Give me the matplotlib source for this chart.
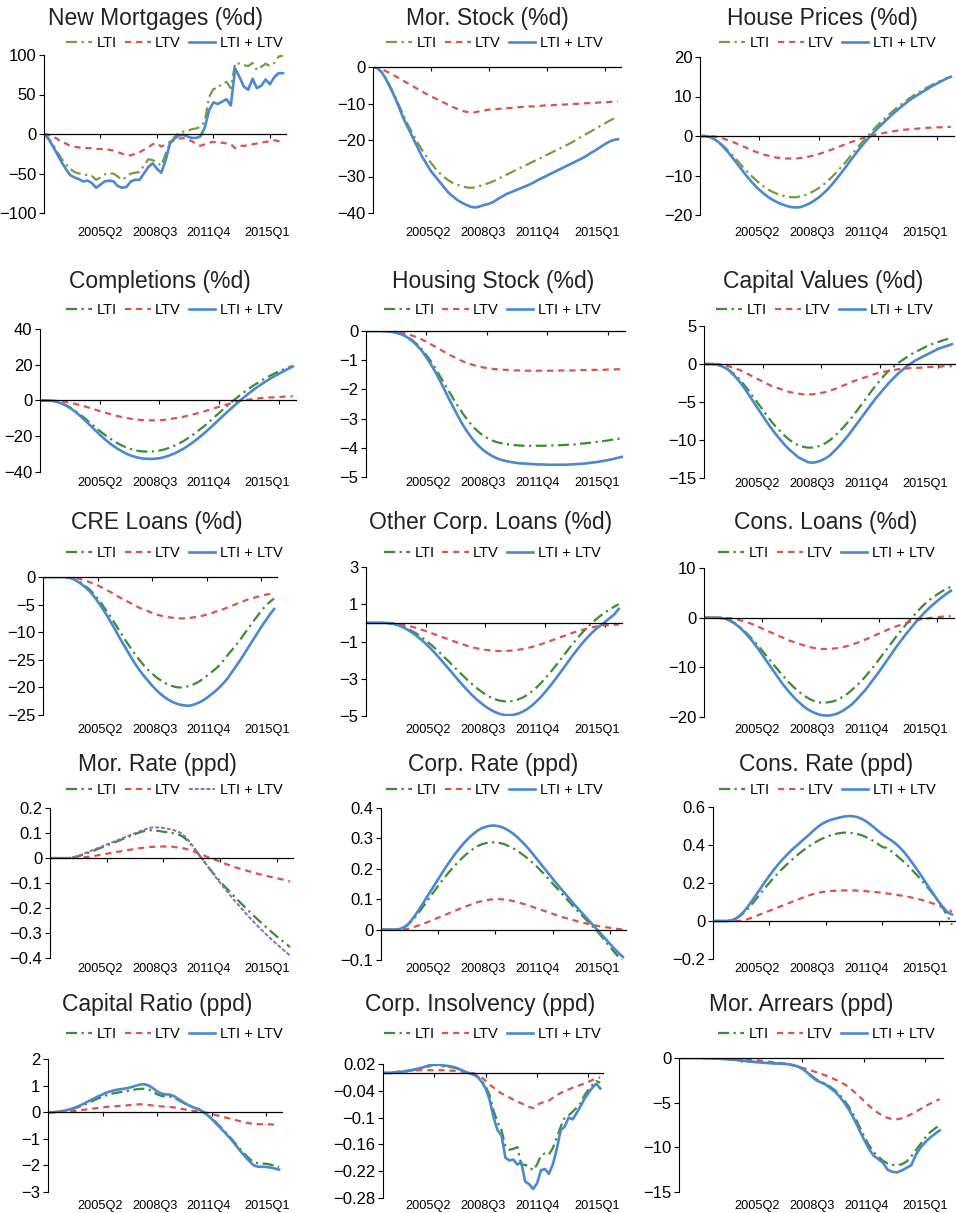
import matplotlib
matplotlib.use('Agg')
import matplotlib.pyplot as plt

plt.rcParams['font.family'] = ['Liberation Sans', 'DejaVu Sans']

W, H = 956, 1213

# quarters 2002Q1 .. 2015Q4
quarters = list(range(56))
tick_pos = [13, 26, 39, 52]
tick_lbl = ['2005Q2', '2008Q3', '2011Q4', '2015Q1']

# ---- New Mortgages (%d)
nm_lti = [0, -5, -13, -22, -31, -38, -44, -48, -50, -51,
          -52, -53, -58, -55, -51, -50, -50, -54, -58, -54,
          -50, -49, -48, -40, -32, -33, -36, -40, -25, -12,
          -4, 1, 3, 4, 6, 7, 9, 16, 47, 57,
          58, 64, 66, 58, 90, 89, 87, 86, 90, 81,
          85, 89, 86, 90, 98, 99]
nm_ltv = [0, -1, -3, -6, -10, -12, -15, -16, -17, -17,
          -18, -18, -19, -19, -19, -20, -21, -23, -25, -27,
          -27, -25, -23, -20, -17, -13, -12, -16, -13, -10,
          -8, -6, -5, -7, -9, -12, -15, -13, -11, -10,
          -11, -11, -12, -13, -18, -15, -15, -14, -13, -12,
          -11, -10, -9, -8, -9, -12]
nm_both = [0, -6, -15, -25, -35, -44, -52, -55, -57, -60,
           -59, -62, -68, -64, -60, -59, -60, -66, -68, -67,
           -60, -58, -58, -50, -42, -37, -44, -49, -33, -12,
           -6, -2, -1, -3, -5, -5, -3, 8, 30, 40,
           38, 41, 44, 36, 83, 72, 60, 56, 70, 58,
           61, 69, 63, 72, 77, 77]

# ---- Mor. Stock (%d)
ms_lti = [0, -0.3, -1.5, -3.3, -5.7, -8.2, -11, -13.7, -16.2, -18.5,
          -20.7, -22.7, -24.5, -26.2, -27.8, -29.1, -30.2, -31.1, -31.8, -32.3,
          -32.7, -33, -33.1, -33, -32.6, -32.2, -31.8, -31.3, -30.7, -30.1,
          -29.5, -28.9, -28.3, -27.7, -27.1, -26.5, -25.9, -25.3, -24.7, -24.1,
          -23.5, -22.9, -22.3, -21.7, -21.1, -20.4, -19.7, -19, -18.3, -17.6,
          -16.9, -16.2, -15.5, -14.8, -14.2, -13.7]
ms_ltv = [0, -0.2, -0.6, -1.2, -1.8, -2.5, -3.2, -3.9, -4.6, -5.3,
          -6, -6.7, -7.4, -8, -8.6, -9.2, -9.8, -10.4, -11, -11.5,
          -12, -12.3, -12.5, -12.4, -12.1, -11.9, -11.7, -11.6, -11.5, -11.4,
          -11.3, -11.2, -11.1, -11, -10.9, -10.8, -10.8, -10.7, -10.6, -10.5,
          -10.5, -10.4, -10.3, -10.3, -10.2, -10.1, -10.1, -10, -9.9, -9.9,
          -9.8, -9.7, -9.7, -9.6, -9.5, -9.4]
ms_both = [0, -0.3, -1.5, -3.5, -6, -8.5, -11.5, -14.5, -17, -19.5,
           -22, -24.5, -26.5, -28.5, -30, -31.5, -33, -34.5, -35.5, -36.5,
           -37.2, -37.8, -38.3, -38.5, -38.2, -37.8, -37.5, -37, -36.2, -35.5,
           -34.8, -34.3, -33.8, -33.3, -32.8, -32.3, -31.7, -31, -30.4, -29.8,
           -29.2, -28.6, -28, -27.4, -26.8, -26.2, -25.6, -25, -24.3, -23.5,
           -22.8, -22, -21.2, -20.5, -20, -19.8]

# ---- House Prices (%d)
hp_lti = [0, 0, -0.2, -0.7, -1.4, -2.4, -3.5, -4.7, -6, -7.3,
          -8.6, -9.8, -10.9, -11.9, -12.8, -13.6, -14.2, -14.7, -15.1, -15.3,
          -15.5, -15.5, -15.3, -15, -14.5, -13.9, -13.2, -12.4, -11.4, -10.3,
          -9.1, -7.8, -6.5, -5.1, -3.7, -2.3, -1, 0.3, 1.6, 2.8,
          3.9, 5, 6, 7, 7.9, 8.8, 9.6, 10.4, 11.1, 11.8,
          12.4, 13, 13.6, 14.1, 14.6, 15]
hp_ltv = [0, 0, 0, -0.1, -0.3, -0.6, -1, -1.4, -1.9, -2.4,
          -2.9, -3.4, -3.9, -4.3, -4.7, -5, -5.3, -5.5, -5.6, -5.7,
          -5.7, -5.7, -5.6, -5.4, -5.2, -4.9, -4.6, -4.2, -3.8, -3.4,
          -2.9, -2.5, -2, -1.6, -1.2, -0.8, -0.4, -0.1, 0.2, 0.5,
          0.7, 0.9, 1.1, 1.3, 1.5, 1.6, 1.7, 1.8, 1.9, 2,
          2.1, 2.1, 2.2, 2.2, 2.3, 2.3]
hp_both = [0, 0, -0.2, -0.7, -1.5, -2.6, -3.9, -5.3, -6.8, -8.3,
           -9.8, -11.2, -12.5, -13.6, -14.6, -15.5, -16.2, -16.8, -17.3, -17.7,
           -18, -18.1, -18, -17.6, -17.1, -16.4, -15.6, -14.6, -13.5, -12.2,
           -10.8, -9.3, -7.8, -6.2, -4.7, -3.2, -1.8, -0.5, 0.8, 2,
           3.1, 4.2, 5.3, 6.3, 7.3, 8.2, 9.1, 9.9, 10.6, 11.3,
           12, 12.7, 13.3, 13.9, 14.5, 15]

# ---- Completions (%d)
cm_lti = [0, 0, -0.1, -0.4, -1, -1.9, -3.1, -4.6, -6.4, -8.4,
          -10.5, -12.7, -14.9, -17, -19, -20.9, -22.6, -24.1, -25.4, -26.5,
          -27.4, -28, -28.4, -28.6, -28.6, -28.4, -28, -27.4, -26.6, -25.6,
          -24.4, -23, -21.4, -19.7, -17.8, -15.8, -13.7, -11.5, -9.2, -6.9,
          -4.6, -2.4, -0.2, 1.9, 3.9, 5.8, 7.6, 9.3, 10.9, 12.4,
          13.8, 15.1, 16.3, 17.4, 18.4, 19.3]
cm_ltv = [0, 0, 0, -0.1, -0.3, -0.6, -1, -1.5, -2.1, -2.8,
          -3.5, -4.3, -5.1, -5.9, -6.7, -7.4, -8.1, -8.8, -9.4, -9.9,
          -10.3, -10.6, -10.9, -11, -11.1, -11.1, -11, -10.8, -10.5, -10.1,
          -9.7, -9.2, -8.6, -8, -7.3, -6.6, -5.9, -5.1, -4.3, -3.5,
          -2.7, -2, -1.3, -0.6, 0, 0.4, 0.7, 1, 1.3, 1.5,
          1.7, 1.8, 2, 2.1, 2.2, 2.3]
cm_both = [0, 0, -0.1, -0.4, -1, -2, -3.3, -5, -7, -9.2,
           -11.6, -14.1, -16.6, -19.1, -21.4, -23.6, -25.5, -27.2, -28.7, -30,
           -31, -31.8, -32.3, -32.6, -32.7, -32.6, -32.3, -31.7, -30.9, -29.9,
           -28.7, -27.3, -25.7, -23.9, -22, -19.9, -17.7, -15.4, -13, -10.6,
           -8.2, -5.8, -3.5, -1.2, 1, 3.1, 5.1, 7, 8.8, 10.5,
           12.1, 13.6, 15, 16.4, 17.7, 19]

# ---- Housing Stock (%d)
hs_lti = [0, 0, 0, 0, -0.01, -0.02, -0.04, -0.08, -0.13, -0.21,
          -0.32, -0.46, -0.63, -0.83, -1.05, -1.3, -1.57, -1.84, -2.11, -2.38,
          -2.63, -2.87, -3.08, -3.27, -3.43, -3.56, -3.66, -3.74, -3.8, -3.84,
          -3.87, -3.89, -3.91, -3.92, -3.93, -3.93, -3.93, -3.93, -3.93, -3.93,
          -3.92, -3.92, -3.91, -3.9, -3.89, -3.88, -3.86, -3.85, -3.83, -3.81,
          -3.79, -3.77, -3.75, -3.72, -3.7, -3.67]
hs_ltv = [0, 0, 0, 0, 0, -0.01, -0.02, -0.04, -0.07, -0.11,
          -0.16, -0.22, -0.29, -0.37, -0.46, -0.55, -0.64, -0.73, -0.82, -0.9,
          -0.98, -1.05, -1.11, -1.16, -1.2, -1.24, -1.27, -1.29, -1.31, -1.32,
          -1.33, -1.34, -1.35, -1.35, -1.36, -1.36, -1.36, -1.36, -1.36, -1.36,
          -1.36, -1.36, -1.35, -1.35, -1.35, -1.35, -1.34, -1.34, -1.34, -1.33,
          -1.33, -1.33, -1.32, -1.32, -1.31, -1.31]
hs_both = [0, 0, 0, 0, -0.01, -0.02, -0.04, -0.08, -0.14, -0.23,
           -0.35, -0.5, -0.68, -0.9, -1.15, -1.43, -1.73, -2.05, -2.37, -2.68,
           -2.98, -3.26, -3.5, -3.72, -3.9, -4.05, -4.17, -4.27, -4.35, -4.41,
           -4.45, -4.48, -4.51, -4.53, -4.54, -4.55, -4.56, -4.57, -4.57, -4.58,
           -4.58, -4.58, -4.58, -4.58, -4.57, -4.56, -4.55, -4.54, -4.52, -4.5,
           -4.48, -4.45, -4.42, -4.39, -4.35, -4.31]

# ---- Capital Values (%d)
cv_lti = [0, 0, 0, -0.1, -0.3, -0.6, -1, -1.5, -2.1, -2.8,
          -3.6, -4.4, -5.2, -6, -6.8, -7.6, -8.3, -8.9, -9.5, -10,
          -10.4, -10.7, -10.9, -11, -11, -10.9, -10.7, -10.4, -10, -9.5,
          -8.9, -8.3, -7.6, -6.9, -6.1, -5.3, -4.5, -3.7, -2.9, -2.2,
          -1.5, -0.9, -0.4, 0.1, 0.5, 0.9, 1.3, 1.6, 1.9, 2.2,
          2.5, 2.7, 2.9, 3.1, 3.3, 3.5]
cv_ltv = [0, 0, 0, 0, -0.1, -0.2, -0.4, -0.6, -0.8, -1.1,
          -1.4, -1.7, -2, -2.3, -2.6, -2.9, -3.1, -3.3, -3.5, -3.7,
          -3.8, -3.9, -4, -4, -4, -3.9, -3.8, -3.7, -3.5, -3.3,
          -3.1, -2.8, -2.6, -2.3, -2.1, -1.9, -1.7, -1.5, -1.3, -1.1,
          -1, -0.9, -0.8, -0.7, -0.6, -0.6, -0.5, -0.5, -0.5, -0.4,
          -0.4, -0.4, -0.4, -0.3, -0.3, -0.3]
cv_both = [0, 0, 0, -0.1, -0.3, -0.6, -1.1, -1.7, -2.4, -3.2,
           -4.1, -5, -5.9, -6.8, -7.7, -8.5, -9.3, -10, -10.7, -11.3,
           -11.8, -12.3, -12.6, -12.9, -13, -12.9, -12.7, -12.4, -12, -11.4,
           -10.8, -10.1, -9.4, -8.6, -7.8, -7, -6.2, -5.4, -4.6, -3.9,
           -3.2, -2.5, -1.9, -1.3, -0.8, -0.3, 0.1, 0.5, 0.8, 1.1,
           1.4, 1.7, 2, 2.2, 2.4, 2.6]

# ---- CRE Loans (%d)
cre_lti = [0, 0, 0, 0, 0, 0, -0.1, -0.3, -0.6, -1,
           -1.6, -2.2, -3, -3.9, -4.9, -6, -7.1, -8.3, -9.5, -10.7,
           -11.9, -13, -14.1, -15.1, -16, -16.8, -17.5, -18.2, -18.7, -19.2,
           -19.6, -19.8, -20, -20, -19.9, -19.7, -19.4, -19, -18.5, -17.9,
           -17.3, -16.7, -16, -15.1, -14.1, -13.2, -12.3, -11.3, -10.2, -9.2,
           -8.1, -7.1, -6.1, -5.2, -4.5, -3.9]
cre_ltv = [0, 0, 0, 0, 0, 0, 0, -0.1, -0.2, -0.4,
           -0.6, -0.9, -1.2, -1.5, -1.9, -2.3, -2.7, -3.1, -3.6, -4,
           -4.4, -4.8, -5.2, -5.6, -5.9, -6.2, -6.5, -6.8, -7, -7.2,
           -7.3, -7.4, -7.5, -7.5, -7.5, -7.4, -7.3, -7.2, -7, -6.8,
           -6.6, -6.3, -6.1, -5.8, -5.5, -5.2, -4.9, -4.6, -4.3, -4,
           -3.8, -3.6, -3.4, -3.2, -3.1, -2.9]
cre_both = [0, 0, 0, 0, 0, 0, -0.1, -0.3, -0.7, -1.2,
            -1.8, -2.5, -3.4, -4.4, -5.5, -6.7, -8, -9.3, -10.7, -12,
            -13.3, -14.6, -15.8, -16.9, -17.9, -18.8, -19.7, -20.5, -21.2, -21.8,
            -22.3, -22.7, -23, -23.2, -23.3, -23.3, -23.1, -22.8, -22.4, -21.9,
            -21.3, -20.7, -20, -19.2, -18.3, -17.2, -16.1, -15, -13.8, -12.6,
            -11.4, -10.2, -9, -7.9, -6.8, -5.8]

# ---- Other Corp. Loans (%d)
ocl_lti = [0, 0, 0, 0, 0, -0.02, -0.05, -0.11, -0.19, -0.3,
           -0.43, -0.58, -0.75, -0.94, -1.14, -1.36, -1.59, -1.83, -2.07, -2.32,
           -2.57, -2.81, -3.05, -3.27, -3.48, -3.67, -3.84, -3.98, -4.09, -4.17,
           -4.21, -4.22, -4.19, -4.12, -4.02, -3.88, -3.7, -3.49, -3.25, -2.98,
           -2.69, -2.39, -2.07, -1.75, -1.43, -1.12, -0.82, -0.54, -0.28, -0.04,
           0.18, 0.38, 0.56, 0.72, 0.87, 1.0]
ocl_ltv = [0, 0, 0, 0, 0, -0.01, -0.03, -0.06, -0.1, -0.15,
           -0.21, -0.28, -0.36, -0.44, -0.53, -0.62, -0.71, -0.8, -0.89, -0.98,
           -1.07, -1.15, -1.23, -1.3, -1.36, -1.41, -1.45, -1.48, -1.5, -1.51,
           -1.51, -1.5, -1.48, -1.45, -1.41, -1.36, -1.3, -1.23, -1.15, -1.07,
           -0.98, -0.89, -0.8, -0.71, -0.62, -0.53, -0.45, -0.38, -0.31, -0.25,
           -0.2, -0.16, -0.13, -0.11, -0.1, -0.09]
ocl_both = [0, 0, 0, 0, 0, -0.02, -0.06, -0.13, -0.23, -0.36,
            -0.52, -0.7, -0.9, -1.12, -1.36, -1.62, -1.9, -2.18, -2.47, -2.76,
            -3.05, -3.33, -3.6, -3.86, -4.09, -4.3, -4.49, -4.65, -4.78, -4.88,
            -4.94, -4.96, -4.94, -4.88, -4.78, -4.64, -4.46, -4.24, -3.99, -3.71,
            -3.41, -3.09, -2.76, -2.42, -2.08, -1.74, -1.42, -1.11, -0.83, -0.57,
            -0.34, -0.14, 0.05, 0.25, 0.45, 0.75]

# ---- Cons. Loans (%d)
cl_lti = [0, 0, 0, 0, -0.1, -0.3, -0.7, -1.2, -1.9, -2.7,
          -3.6, -4.6, -5.6, -6.7, -7.8, -8.9, -10, -11.1, -12.1, -13.1,
          -14, -14.8, -15.5, -16.1, -16.6, -16.9, -17.1, -17.1, -17, -16.8,
          -16.4, -15.9, -15.3, -14.5, -13.7, -12.8, -11.8, -10.7, -9.6, -8.4,
          -7.2, -6, -4.8, -3.6, -2.5, -1.4, -0.3, 0.7, 1.7, 2.6,
          3.4, 4.1, 4.7, 5.3, 5.8, 6.2]
cl_ltv = [0, 0, 0, 0, 0, -0.05, -0.15, -0.3, -0.5, -0.75,
          -1.05, -1.4, -1.8, -2.2, -2.6, -3, -3.4, -3.8, -4.2, -4.6,
          -4.9, -5.2, -5.5, -5.8, -6, -6.2, -6.3, -6.3, -6.3, -6.2,
          -6.1, -5.9, -5.7, -5.4, -5.1, -4.8, -4.4, -4, -3.6, -3.2,
          -2.8, -2.4, -2, -1.7, -1.4, -1.1, -0.8, -0.6, -0.4, -0.2,
          -0.1, 0, 0.1, 0.2, 0.25, 0.3]
cl_both = [0, 0, 0, 0, -0.1, -0.3, -0.7, -1.3, -2, -2.9,
           -3.9, -5, -6.2, -7.5, -8.8, -10.1, -11.4, -12.7, -13.9, -15,
           -16, -16.9, -17.7, -18.4, -18.9, -19.3, -19.6, -19.7, -19.7, -19.5,
           -19.2, -18.7, -18.1, -17.4, -16.5, -15.5, -14.5, -13.3, -12.1, -10.9,
           -9.6, -8.3, -7, -5.7, -4.5, -3.3, -2.2, -1.1, -0.1, 0.9,
           1.8, 2.6, 3.4, 4.1, 4.8, 5.4]

# ---- Mor. Rate (ppd)
mr_lti = [0, 0, 0, 0, 0, 0.002, 0.005, 0.01, 0.016, 0.022,
          0.029, 0.036, 0.043, 0.05, 0.057, 0.064, 0.071, 0.078, 0.085, 0.092,
          0.099, 0.105, 0.109, 0.111, 0.11, 0.108, 0.105, 0.103, 0.1, 0.096,
          0.09, 0.078, 0.06, 0.039, 0.016, -0.007, -0.03, -0.052, -0.073, -0.093,
          -0.113, -0.131, -0.149, -0.167, -0.185, -0.202, -0.219, -0.236, -0.252, -0.268,
          -0.284, -0.299, -0.314, -0.328, -0.342, -0.356]
mr_ltv = [0, 0, 0, 0, 0, 0, 0, 0.001, 0.003, 0.005,
          0.008, 0.011, 0.014, 0.017, 0.02, 0.023, 0.026, 0.029, 0.032, 0.035,
          0.038, 0.04, 0.042, 0.044, 0.045, 0.046, 0.046, 0.046, 0.045, 0.043,
          0.041, 0.037, 0.032, 0.026, 0.019, 0.012, 0.005, -0.001, -0.008, -0.015,
          -0.022, -0.028, -0.034, -0.04, -0.045, -0.05, -0.055, -0.06, -0.065, -0.069,
          -0.073, -0.077, -0.081, -0.085, -0.089, -0.094]
mr_both = [0, 0, 0, 0, 0, 0.002, 0.006, 0.012, 0.019, 0.026,
           0.033, 0.04, 0.047, 0.054, 0.061, 0.068, 0.075, 0.082, 0.089, 0.096,
           0.103, 0.11, 0.116, 0.121, 0.123, 0.122, 0.12, 0.117, 0.113, 0.108,
           0.1, 0.085, 0.065, 0.042, 0.018, -0.006, -0.03, -0.054, -0.077, -0.099,
           -0.121, -0.143, -0.164, -0.184, -0.204, -0.224, -0.243, -0.261, -0.279, -0.296,
           -0.313, -0.329, -0.345, -0.36, -0.375, -0.39]

# ---- Corp. Rate (ppd)
cr_lti = [0, 0, 0, 0, 0.001, 0.005, 0.014, 0.028, 0.045, 0.064,
          0.084, 0.104, 0.124, 0.144, 0.163, 0.181, 0.198, 0.214, 0.229, 0.243,
          0.255, 0.266, 0.275, 0.281, 0.285, 0.287, 0.287, 0.285, 0.281, 0.275,
          0.268, 0.259, 0.249, 0.238, 0.226, 0.213, 0.199, 0.184, 0.168, 0.152,
          0.136, 0.12, 0.104, 0.088, 0.072, 0.057, 0.042, 0.027, 0.012, -0.003,
          -0.02, -0.038, -0.056, -0.073, -0.09, -0.107]
cr_ltv = [0, 0, 0, 0, 0, 0, 0.002, 0.006, 0.011, 0.016,
          0.021, 0.027, 0.033, 0.039, 0.045, 0.051, 0.057, 0.063, 0.069, 0.075,
          0.08, 0.085, 0.09, 0.094, 0.097, 0.099, 0.1, 0.1, 0.099, 0.097,
          0.094, 0.09, 0.086, 0.082, 0.077, 0.072, 0.067, 0.062, 0.057, 0.052,
          0.047, 0.042, 0.038, 0.034, 0.03, 0.026, 0.022, 0.019, 0.016, 0.013,
          0.01, 0.008, 0.006, 0.004, 0.002, 0.0]
cr_both = [0, 0, 0, 0, 0.001, 0.006, 0.016, 0.032, 0.052, 0.074,
           0.097, 0.12, 0.143, 0.166, 0.189, 0.211, 0.232, 0.252, 0.27, 0.287,
           0.302, 0.315, 0.326, 0.334, 0.339, 0.342, 0.342, 0.339, 0.334, 0.326,
           0.316, 0.304, 0.29, 0.275, 0.258, 0.24, 0.222, 0.204, 0.186, 0.168,
           0.15, 0.133, 0.116, 0.099, 0.082, 0.066, 0.05, 0.034, 0.018, 0.002,
           -0.014, -0.03, -0.046, -0.062, -0.077, -0.09]

# ---- Cons. Rate (ppd)
csr_lti = [0, 0, 0, 0, 0.002, 0.009, 0.022, 0.041, 0.064, 0.09,
           0.118, 0.147, 0.175, 0.202, 0.228, 0.253, 0.276, 0.298, 0.319, 0.339,
           0.358, 0.376, 0.392, 0.407, 0.42, 0.432, 0.442, 0.45, 0.457, 0.462,
           0.465, 0.465, 0.463, 0.459, 0.453, 0.444, 0.433, 0.42, 0.405, 0.389,
           0.385, 0.368, 0.35, 0.33, 0.31, 0.288, 0.264, 0.24, 0.214, 0.188,
           0.16, 0.13, 0.1, 0.065, 0.025, -0.02]
csr_ltv = [0, 0, 0, 0, 0, 0, 0, 0.003, 0.01, 0.018,
           0.027, 0.036, 0.045, 0.054, 0.063, 0.072, 0.081, 0.09, 0.099, 0.108,
           0.117, 0.126, 0.134, 0.141, 0.147, 0.152, 0.155, 0.157, 0.159, 0.16,
           0.161, 0.161, 0.161, 0.16, 0.159, 0.157, 0.155, 0.153, 0.151, 0.148,
           0.145, 0.142, 0.139, 0.135, 0.131, 0.127, 0.122, 0.117, 0.111, 0.104,
           0.097, 0.089, 0.08, 0.07, 0.06, 0.05]
csr_both = [0, 0, 0, 0, 0.002, 0.01, 0.025, 0.047, 0.075, 0.107,
            0.14, 0.174, 0.207, 0.239, 0.27, 0.298, 0.324, 0.348, 0.371, 0.392,
            0.412, 0.432, 0.452, 0.473, 0.493, 0.51, 0.522, 0.531, 0.538, 0.544,
            0.549, 0.552, 0.552, 0.548, 0.54, 0.528, 0.512, 0.494, 0.474, 0.455,
            0.44, 0.425, 0.408, 0.387, 0.362, 0.333, 0.302, 0.27, 0.236, 0.201,
            0.167, 0.133, 0.1, 0.07, 0.045, 0.035]

# ---- Capital Ratio (ppd)
cap_lti = [0, 0, 0.01, 0.03, 0.05, 0.09, 0.13, 0.18, 0.24, 0.31,
           0.38, 0.45, 0.52, 0.58, 0.64, 0.69, 0.72, 0.75, 0.77, 0.8,
           0.83, 0.86, 0.88, 0.88, 0.85, 0.77, 0.67, 0.61, 0.59, 0.58,
           0.54, 0.46, 0.37, 0.29, 0.22, 0.16, 0.1, 0.01, -0.1, -0.23,
           -0.38, -0.54, -0.71, -0.88, -1.06, -1.25, -1.43, -1.6, -1.76, -1.88,
           -1.92, -1.93, -1.94, -1.97, -2.02, -2.06]
cap_ltv = [0, 0, 0, 0.01, 0.02, 0.03, 0.04, 0.06, 0.08, 0.1,
           0.12, 0.14, 0.16, 0.18, 0.2, 0.21, 0.22, 0.23, 0.24, 0.26,
           0.28, 0.29, 0.3, 0.29, 0.27, 0.25, 0.23, 0.22, 0.21, 0.2,
           0.18, 0.15, 0.12, 0.09, 0.06, 0.04, 0.02, 0, -0.03, -0.07,
           -0.11, -0.15, -0.19, -0.23, -0.27, -0.31, -0.35, -0.39, -0.42, -0.44,
           -0.45, -0.45, -0.45, -0.46, -0.47, -0.48]
cap_both = [0, 0, 0.01, 0.03, 0.06, 0.1, 0.15, 0.21, 0.28, 0.36,
            0.44, 0.52, 0.6, 0.67, 0.74, 0.79, 0.83, 0.86, 0.88, 0.91,
            0.95, 1.0, 1.04, 1.05, 1.0, 0.9, 0.78, 0.7, 0.67, 0.66,
            0.6, 0.5, 0.4, 0.3, 0.22, 0.16, 0.1, 0, -0.12, -0.26,
            -0.42, -0.58, -0.75, -0.92, -1.1, -1.3, -1.5, -1.68, -1.85, -2.0,
            -2.05, -2.05, -2.06, -2.08, -2.12, -2.16]

# ---- Corp. Insolvency (ppd)
ci_lti = [0, 0, 0, 0.001, 0.002, 0.003, 0.004, 0.005, 0.007, 0.009,
          0.011, 0.013, 0.016, 0.018, 0.017, 0.015, 0.014, 0.013, 0.012, 0.009,
          0.006, 0.002, -0.001, -0.004, -0.009, -0.018, -0.03, -0.05, -0.085, -0.11,
          -0.128, -0.165, -0.172, -0.17, -0.166, -0.205, -0.206, -0.21, -0.218, -0.205,
          -0.185, -0.18, -0.183, -0.168, -0.145, -0.12, -0.1, -0.095, -0.087, -0.078,
          -0.068, -0.05, -0.038, -0.027, -0.018, -0.022]
ci_ltv = [0, 0, 0.001, 0.002, 0.003, 0.004, 0.005, 0.005, 0.005, 0.006,
          0.006, 0.006, 0.006, 0.006, 0.006, 0.006, 0.006, 0.005, 0.005, 0.004,
          0.003, 0.002, 0.001, -0.001, -0.004, -0.01, -0.018, -0.026, -0.033, -0.04,
          -0.046, -0.05, -0.055, -0.06, -0.064, -0.068, -0.072, -0.076, -0.079, -0.072,
          -0.067, -0.065, -0.062, -0.056, -0.05, -0.045, -0.04, -0.037, -0.033, -0.03,
          -0.027, -0.024, -0.02, -0.016, -0.012, -0.01]
ci_both = [0, 0, 0, 0.001, 0.002, 0.003, 0.004, 0.006, 0.008, 0.01,
           0.012, 0.015, 0.018, 0.02, 0.019, 0.017, 0.016, 0.015, 0.013, 0.01,
           0.006, 0.002, -0.001, -0.004, -0.009, -0.02, -0.035, -0.06, -0.1, -0.128,
           -0.14, -0.19, -0.196, -0.194, -0.205, -0.2, -0.243, -0.249, -0.26, -0.247,
           -0.218, -0.215, -0.226, -0.205, -0.17, -0.128, -0.12, -0.1, -0.104, -0.09,
           -0.075, -0.058, -0.045, -0.033, -0.024, -0.035]

# ---- Mor. Arrears (ppd)
ma_lti = [0, 0, 0, 0, -0.01, -0.02, -0.03, -0.05, -0.07, -0.1,
          -0.13, -0.17, -0.22, -0.27, -0.33, -0.39, -0.44, -0.49, -0.53, -0.56,
          -0.59, -0.62, -0.64, -0.69, -0.78, -0.93, -1.15, -1.5, -2.0, -2.4,
          -2.65, -2.9, -3.25, -3.65, -4.2, -4.85, -5.6, -6.5, -7.6, -8.7,
          -9.7, -10.5, -11.0, -11.5, -11.8, -11.95, -12.0, -11.9, -11.6, -11.0,
          -10.3, -9.6, -8.9, -8.3, -7.9, -7.5]
ma_ltv = [0, 0, 0, 0, 0, 0, 0, 0, 0, -0.01,
          -0.02, -0.03, -0.05, -0.08, -0.12, -0.17, -0.23, -0.29, -0.35, -0.41,
          -0.47, -0.53, -0.6, -0.7, -0.82, -0.96, -1.1, -1.25, -1.42, -1.6,
          -1.78, -1.97, -2.18, -2.42, -2.68, -2.98, -3.35, -3.8, -4.3, -4.8,
          -5.3, -5.75, -6.15, -6.45, -6.7, -6.85, -6.85, -6.75, -6.55, -6.3,
          -6.0, -5.7, -5.4, -5.1, -4.85, -4.6]
ma_both = [0, 0, 0, 0, -0.01, -0.02, -0.03, -0.05, -0.07, -0.1,
           -0.13, -0.17, -0.22, -0.28, -0.34, -0.4, -0.45, -0.5, -0.54, -0.57,
           -0.6, -0.63, -0.65, -0.7, -0.8, -0.95, -1.2, -1.6, -2.1, -2.5,
           -2.75, -3.0, -3.4, -3.8, -4.4, -5.1, -5.9, -6.9, -8.0, -9.1,
           -10.1, -10.9, -11.3, -11.7, -12.5, -12.75, -12.8, -12.6, -12.3, -12.0,
           -10.8, -10.0, -9.4, -8.9, -8.5, -8.1]

GREEN_OLIVE = '#7A9B3C'
GREEN = '#3D8C35'
RED = '#D9534F'
BLUE = '#4A88D0'
PURPLE = '#8C6BBF'

# row layout in pixels: title y, legend y, x-label y
rows = [(18, 43, 232), (282, 310, 482), (523, 553, 729), (765, 790, 968), (1005, 1034, 1205)]
# x positions (pixels) of the date labels in each column of panels
label_px = [[100, 155, 209, 267], [428, 483, 538, 597], [757, 812, 867, 925]]
XMAX = 55.7

# box = (left, right, top, bottom) in pixels; tx / lx = title and legend centres
panels = [
    dict(title='New Mortgages (%d)', d=(nm_lti, nm_ltv, nm_both), yt=[100, 50, 0, -50, -100],
         box=(44, 286, 55, 213), tx=156, lx=174, row=0),
    dict(title='Mor. Stock (%d)', d=(ms_lti, ms_ltv, ms_both), yt=[0, -10, -20, -30, -40],
         box=(373, 621, 67, 213), tx=487, lx=494, row=0),
    dict(title='House Prices (%d)', d=(hp_lti, hp_ltv, hp_both), yt=[20, 10, 0, -10, -20],
         box=(700, 954, 57, 215), tx=822, lx=827, row=0),
    dict(title='Completions (%d)', d=(cm_lti, cm_ltv, cm_both), yt=[40, 20, 0, -20, -40],
         box=(40, 296, 329, 472), tx=160, lx=174, row=1),
    dict(title='Housing Stock (%d)', d=(hs_lti, hs_ltv, hs_both), yt=[0, -1, -2, -3, -4, -5],
         box=(366, 625, 331, 477), tx=493, lx=492, row=1),
    dict(title='Capital Values (%d)', d=(cv_lti, cv_ltv, cv_both), yt=[5, 0, -5, -10, -15],
         box=(704, 955, 326, 478), tx=823, lx=824, row=1),
    dict(title='CRE Loans (%d)', d=(cre_lti, cre_ltv, cre_both), yt=[0, -5, -10, -15, -20, -25],
         ylabels=['0', '\u22125', '\u221210', '\u221225', '\u221220', '\u221225'],
         box=(43, 277, 577, 715), tx=157, lx=174, row=2),
    dict(title='Other Corp. Loans (%d)', d=(ocl_lti, ocl_ltv, ocl_both), yt=[3, 1, -1, -3, -5],
         box=(366, 622, 567, 716), tx=491, lx=492, row=2),
    dict(title='Cons. Loans (%d)', d=(cl_lti, cl_ltv, cl_both), yt=[10, 0, -10, -20],
         box=(704, 954, 568, 717), tx=826, lx=826, row=2),
    dict(title='Mor. Rate (ppd)', d=(mr_lti, mr_ltv, mr_both), yt=[0.2, 0.1, 0, -0.1, -0.2, -0.3, -0.4],
         box=(50, 293, 808, 958), tx=157, lx=174, row=3, purple=True),
    dict(title='Corp. Rate (ppd)', d=(cr_lti, cr_ltv, cr_both), yt=[0.4, 0.3, 0.2, 0.1, 0, -0.1],
         box=(381, 626, 808, 960), tx=493, lx=494, row=3),
    dict(title='Cons. Rate (ppd)', d=(csr_lti, csr_ltv, csr_both), yt=[0.6, 0.4, 0.2, 0, -0.2],
         box=(713, 955, 807, 959), tx=826, lx=827, row=3),
    dict(title='Capital Ratio (ppd)', d=(cap_lti, cap_ltv, cap_both), yt=[2, 1, 0, -1, -2, -3],
         box=(48, 282, 1059, 1192), tx=157, lx=174, row=4),
    dict(title='Corp. Insolvency (ppd)', d=(ci_lti, ci_ltv, ci_both),
         yt=[0.02, -0.04, -0.1, -0.16, -0.22, -0.28],
         box=(383, 603, 1064, 1198), tx=480, lx=492, row=4),
    dict(title='Mor. Arrears (ppd)', d=(ma_lti, ma_ltv, ma_both), yt=[0, -5, -10, -15],
         box=(679, 943, 1058, 1192), tx=801, lx=826, row=4),
]


def fmt(v):
    return ('%g' % v).replace('-', '\u2212')


fig = plt.figure(figsize=(W / 100, H / 100), dpi=100)
fig.patch.set_facecolor('white')

for k, p in enumerate(panels):
    for s in p['d']:
        assert len(s) == len(quarters), p['title']
    l, r, t, b = p['box']
    ty, ly, xly = rows[p['row']]
    ax = fig.add_axes([l / W, 1 - b / H, (r - l) / W, (b - t) / H])
    lti, ltv, both = p['d']
    g = GREEN_OLIVE if p['row'] == 0 else GREEN
    ax.plot(quarters, lti, color=g, lw=1.6, dashes=(5, 2, 1, 2), label='LTI')
    ax.plot(quarters, ltv, color=RED, lw=1.6, dashes=(2.8, 2.2), label='LTV')
    if p.get('purple'):
        ax.plot(quarters, both, color=PURPLE, lw=1.4, dashes=(2, 1), label='LTI + LTV')
    else:
        ax.plot(quarters, both, color=BLUE, lw=1.9, label='LTI + LTV')

    ax.set_xlim(0, XMAX)
    ax.set_ylim(min(p['yt']), max(p['yt']))
    ax.set_yticks(p['yt'])
    ax.set_yticklabels(p.get('ylabels', [fmt(v) for v in p['yt']]))
    ax.tick_params(axis='y', direction='out', length=3.5, width=0.8, labelsize=12, pad=2)

    for side in ('top', 'right'):
        ax.spines[side].set_visible(False)
    ax.spines['left'].set_linewidth(0.8)
    ax.spines['bottom'].set_position(('data', 0))
    ax.spines['bottom'].set_linewidth(0.9)
    ax.set_xticks(tick_pos)
    ax.tick_params(axis='x', direction='out', length=3, width=0.8, labelbottom=False)

    # date labels sit along the bottom of each panel
    sec = ax.secondary_xaxis('bottom')
    sec.set_xticks([(px - l) / (r - l) * XMAX for px in label_px[k % 3]])
    sec.set_xticklabels(tick_lbl)
    pad = max(xly - b - 5, 0) * 0.72
    sec.tick_params(length=0, labelsize=9.2, pad=pad)
    sec.spines['bottom'].set_visible(False)

    fig.text(p['tx'] / W, 1 - ty / H, p['title'], ha='center', va='center', fontsize=16.5, color='#222222')
    ax.legend(loc='center', bbox_to_anchor=(p['lx'] / W, 1 - ly / H), bbox_transform=fig.transFigure,
              ncol=3, frameon=False, fontsize=10.5, handlelength=1.8, handletextpad=0.3,
              columnspacing=0.55, borderpad=0, borderaxespad=0)

fig.savefig('out.png', dpi=100)
